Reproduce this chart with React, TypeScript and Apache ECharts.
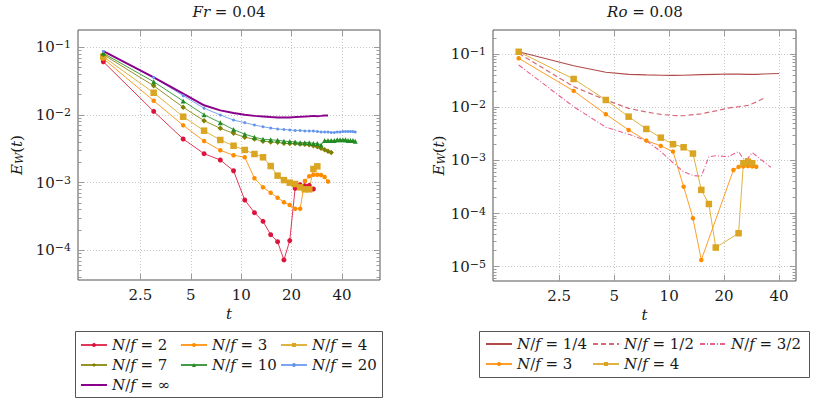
import React, { useEffect, useRef } from "react";
import * as echarts from "echarts";

const FONT = "DejaVu Serif";

// ---------- Left panel: Fr = 0.04 ----------
const tA2 = [1.5, 3, 4.5, 6, 7.5, 9, 10.5, 12, 13.5, 15, 16.5, 18, 19.5, 21, 22.5, 24, 25.5, 27];
const eA2 = [0.0612, 0.0113, 0.00442, 0.00268, 0.00216, 0.0015, 0.000554, 0.00036, 0.000268, 0.00017, 0.000134, 0.000072, 0.000139, 0.000825, 0.00093, 0.0009, 0.00091, 0.000805];

const tA3 = [1.5, 3, 4.5, 6, 7.5, 9, 10.5, 12, 13.5, 15, 16.5, 18, 19.5, 21, 22.5, 24, 25.5, 27, 28.5, 30, 31.5, 33];
const eA3 = [0.068, 0.01625, 0.00703, 0.00412, 0.00301, 0.00254, 0.00237, 0.00116, 0.000853, 0.00071, 0.000599, 0.000512, 0.000467, 0.000412, 0.000412, 0.00106, 0.00124, 0.00131, 0.00131, 0.0013, 0.00121, 0.00104];

const tA4 = [1.5, 3, 4.5, 6, 7.5, 9, 10.5, 12, 13.5, 15, 16.5, 18, 19.5, 21, 22.5, 24, 25.5, 27, 28.5];
const eA4 = [0.0726, 0.0213, 0.00943, 0.00586, 0.00427, 0.00351, 0.00304, 0.00265, 0.00237, 0.00176, 0.00127, 0.00109, 0.000998, 0.000955, 0.000853, 0.000797, 0.000797, 0.00159, 0.00174];

const tA7 = [1.5, 3, 4.5, 6, 7.5, 9, 10.5, 12, 13.5, 15, 16.5, 18, 19.5, 21, 22.5, 24, 25.5, 27, 28.5, 30, 31.5, 33, 34.5];
const eA7 = [0.078, 0.027, 0.013, 0.00823, 0.00635, 0.00536, 0.00468, 0.0044, 0.0041, 0.004, 0.00395, 0.00381, 0.0038, 0.00378, 0.00374, 0.0037, 0.00362, 0.0035, 0.00338, 0.00322, 0.00305, 0.00292, 0.00278];

const tA10 = [1.5, 3, 4.5, 6, 7.5, 9, 10.5, 12, 13.5, 15, 16.5, 18, 19.5, 21, 22.5, 24, 25.5, 27, 28.5, 30, 31.5, 33, 34.5, 36, 37.5, 39, 40.5, 42, 43.5, 45, 46.5, 48];
const eA10 = [0.0815, 0.031, 0.0161, 0.0101, 0.0077, 0.0061, 0.0052, 0.0047, 0.00437, 0.0043, 0.00423, 0.0041, 0.00405, 0.004, 0.0039, 0.0039, 0.0039, 0.0038, 0.0038, 0.0036, 0.0042, 0.0042, 0.0042, 0.0042, 0.0043, 0.0043, 0.0043, 0.0043, 0.0042, 0.0042, 0.0042, 0.0041];

const tA20 = [1.5, 3, 4.5, 6, 7.5, 9, 10.5, 12, 13.5, 15, 16.5, 18, 19.5, 21, 22.5, 24, 25.5, 27, 28.5, 30, 31.5, 33, 34.5, 36, 37.5, 39, 40.5, 42, 43.5, 45, 46.5, 48];
const eA20 = [0.087, 0.036, 0.0193, 0.0126, 0.01, 0.0084, 0.0077, 0.0071, 0.0067, 0.0064, 0.0062, 0.0061, 0.006, 0.0059, 0.0059, 0.0058, 0.0058, 0.0058, 0.0057, 0.0056, 0.0056, 0.0056, 0.0055, 0.0055, 0.0056, 0.0056, 0.0057, 0.0057, 0.0057, 0.0057, 0.0057, 0.0056];

const tAInf = [1.5, 3, 4.5, 6, 7.5, 9, 10.5, 12, 13.5, 15, 16.5, 18, 19.5, 21, 22.5, 24, 25.5, 27, 28.5, 30, 31.5, 33];
const eAInf = [0.088, 0.036, 0.0207, 0.0139, 0.0117, 0.0107, 0.0101, 0.0097, 0.0095, 0.0093, 0.0092, 0.0092, 0.0092, 0.0093, 0.0094, 0.0095, 0.0096, 0.0097, 0.0096, 0.0097, 0.0098, 0.0098];

// ---------- Right panel: Ro = 0.08 ----------
const tB14 = [1.5, 3, 4.5, 6, 7.5, 9, 10.5, 12, 15, 18, 21, 24, 27, 30, 33, 36, 40];
const eB14 = [0.11, 0.06, 0.0453, 0.0415, 0.0405, 0.0398, 0.0396, 0.0398, 0.041, 0.0415, 0.042, 0.0418, 0.0415, 0.0412, 0.042, 0.0425, 0.043];

const tB12 = [1.5, 3, 4.5, 6, 7.5, 9, 10.5, 12, 15, 18, 21, 24, 27, 30, 33];
const eB12 = [0.103, 0.0243, 0.01365, 0.0095, 0.0081, 0.0073, 0.007, 0.0069, 0.0075, 0.0085, 0.0096, 0.0102, 0.0108, 0.0125, 0.0147];

const tB32 = [1.5, 3, 4.5, 6, 7.5, 9, 10.5, 12, 13.5, 15, 16.5, 18, 21, 24, 25.5, 27, 28.5, 36];
const eB32 = [0.062, 0.0102, 0.0042, 0.0031, 0.00235, 0.00146, 0.0009, 0.00061, 0.00052, 0.0005, 0.00117, 0.00122, 0.00117, 0.00146, 0.00106, 0.00109, 0.0014, 0.00074];

const tB3 = [1.5, 3, 4.5, 6, 7.5, 9, 10.5, 12, 13.5, 15, 22.5, 24, 25.5, 27, 28.5, 30];
const eB3 = [0.083, 0.0202, 0.00736, 0.00373, 0.00235, 0.00187, 0.00146, 0.00032, 0.0000816, 0.0000134, 0.00066, 0.000752, 0.00077, 0.00078, 0.00077, 0.00076];

const tB4 = [1.5, 3, 4.5, 6, 7.5, 9, 10.5, 12, 13.5, 15, 16.5, 18, 24, 25.5, 27, 28.5];
const eB4 = [0.11, 0.0339, 0.01365, 0.00663, 0.00389, 0.00267, 0.00201, 0.00176, 0.00134, 0.000278, 0.000151, 0.0000229, 0.0000426, 0.000882, 0.000946, 0.000882];

// ---------- Axes ----------
const xTickLabels = [2.5, 5, 10, 20, 40];
const yDecadesLeft = [-1, -2, -3, -4];
const yDecadesRight = [-1, -2, -3, -4, -5];
const minorMultipliers = [2, 3, 4, 5, 6, 7, 8, 9];

const legendText: Record<string, string> = {
  A2: "{i|N}/{i|f} = 2",
  A3: "{i|N}/{i|f} = 3",
  A4: "{i|N}/{i|f} = 4",
  A7: "{i|N}/{i|f} = 7",
  A10: "{i|N}/{i|f} = 10",
  A20: "{i|N}/{i|f} = 20",
  AInf: "{i|N}/{i|f} = ∞",
  B14: "{i|N}/{i|f} = 1/4",
  B12: "{i|N}/{i|f} = 1/2",
  B32: "{i|N}/{i|f} = 3/2",
  B3: "{i|N}/{i|f} = 3",
  B4: "{i|N}/{i|f} = 4",
};
const noMarker = ["AInf", "B14", "B12", "B32"];

const LG = Math.log10;

function minorTicks(decades: number[]): number[] {
  const out: number[] = [];
  const lo = Math.min(...decades) - 1;
  const hi = Math.max(...decades);
  for (let d = lo; d <= hi; d++) {
    for (const m of minorMultipliers) out.push(LG(m) + d);
  }
  return out;
}

const TICK_COLOR = "#9a9a9a";
const TEXT_COLOR = "#1a1a1a";
const FS = 15;
const ital = { fontStyle: "italic", fontFamily: FONT, fontSize: FS };

function xAxes(gi: number, min: number, max: number) {
  const ticks = xTickLabels.map(LG);
  return [
    {
      type: "value", gridIndex: gi, min, max, position: "bottom",
      axisLine: { show: false },
      axisTick: { show: true, inside: true, length: 6, customValues: ticks, lineStyle: { color: TICK_COLOR } },
      axisLabel: {
        customValues: ticks, margin: 7, fontFamily: FONT, fontSize: FS, color: TEXT_COLOR,
        formatter: (v: number) => String(Number(Math.pow(10, v).toPrecision(3))),
      },
      splitLine: { show: true, lineStyle: { color: "#c6c6c6", type: [1, 2], width: 1 } },
      name: "{i|t}", nameLocation: "middle", nameGap: 24,
      nameTextStyle: { fontFamily: FONT, fontSize: FS, color: TEXT_COLOR, rich: { i: ital } },
    },
    {
      type: "value", gridIndex: gi, min, max, position: "top",
      axisLine: { show: false },
      axisTick: { show: true, inside: true, length: 6, customValues: ticks, lineStyle: { color: TICK_COLOR } },
      axisLabel: { show: false },
      splitLine: { show: false },
    },
  ];
}

function yAxes(gi: number, min: number, max: number, decades: number[], nameGap: number) {
  const minor = minorTicks(decades);
  const base = { type: "value", gridIndex: gi, min, max, axisLine: { show: false }, splitLine: { show: false } };
  return [
    {
      ...base, position: "left",
      axisTick: { show: true, inside: true, length: 6, customValues: decades, lineStyle: { color: TICK_COLOR } },
      axisLabel: {
        customValues: decades, margin: 7, fontFamily: FONT, fontSize: FS, lineHeight: 16, color: TEXT_COLOR,
        formatter: (v: number) => `10{s|−${Math.round(-v)}}`,
        rich: { s: { fontSize: 11, lineHeight: 7, verticalAlign: "top", fontFamily: FONT, color: TEXT_COLOR } },
      },
      splitLine: { show: true, lineStyle: { color: "#c6c6c6", type: [1, 2], width: 1 } },
      name: "{i|E}{s|W}({i|t})", nameLocation: "middle", nameGap,
      nameTextStyle: {
        fontFamily: FONT, fontSize: FS, lineHeight: 16, color: TEXT_COLOR,
        rich: {
          i: ital,
          s: { fontStyle: "italic", fontFamily: FONT, fontSize: 11, lineHeight: 7, verticalAlign: "bottom" },
        },
      },
    },
    { ...base, position: "left", axisTick: { show: true, inside: true, length: 3.5, customValues: minor, lineStyle: { color: TICK_COLOR } }, axisLabel: { show: false } },
    { ...base, position: "right", axisTick: { show: true, inside: true, length: 6, customValues: decades, lineStyle: { color: TICK_COLOR } }, axisLabel: { show: false } },
    { ...base, position: "right", axisTick: { show: true, inside: true, length: 3.5, customValues: minor, lineStyle: { color: TICK_COLOR } }, axisLabel: { show: false } },
  ];
}

function series(name: string, t: number[], e: number[], color: string, xi: number, yi: number, opts: any = {}) {
  const symbol = opts.symbol ?? "none";
  return {
    type: "line", name, xAxisIndex: xi, yAxisIndex: yi,
    data: t.map((x, i) => [LG(x), LG(e[i])]),
    symbol, symbolSize: opts.size ?? 5, showSymbol: symbol !== "none",
    itemStyle: { color },
    lineStyle: { color, width: opts.width ?? 1, opacity: opts.opacity ?? 0.85, type: opts.type ?? "solid" },
    z: opts.z ?? 2,
    silent: true,
  };
}

function legend(names: string[], left: number, top: number) {
  return {
    data: names.map((n) => (noMarker.includes(n) ? { name: n, itemStyle: { opacity: 0 } } : { name: n })),
    orient: "vertical", left, top, padding: 0, itemGap: 0,
    itemWidth: 26, itemHeight: 5, selectedMode: false,
    formatter: (n: string) => legendText[n],
    textStyle: {
      fontFamily: FONT, fontSize: FS, lineHeight: 20, color: TEXT_COLOR,
      rich: { i: { ...ital, lineHeight: 20 } },
    },
  };
}

export default function App() {
  const ref = useRef<HTMLDivElement>(null);
  useEffect(() => {
    if (!ref.current) return;
    const chart = echarts.init(ref.current, undefined, { renderer: "svg" });
    const option: any = {
      animation: false,
      backgroundColor: "#fff",
      textStyle: { fontFamily: FONT },
      grid: [
        { left: 78, top: 30, width: 302, height: 250, show: true, borderColor: "#555", borderWidth: 1, backgroundColor: "transparent" },
        { left: 493, top: 30, width: 303, height: 251, show: true, borderColor: "#555", borderWidth: 1, backgroundColor: "transparent" },
      ],
      xAxis: [...xAxes(0, LG(1.059), LG(67.5)), ...xAxes(1, LG(1.085), LG(49.5))],
      yAxis: [...yAxes(0, -4.439, -0.744, yDecadesLeft, 53), ...yAxes(1, -5.269, -0.549, yDecadesRight, 46)],
      series: [
        series("A2", tA2, eA2, "#DC143C", 0, 0, { symbol: "circle", size: 5 }),
        series("A3", tA3, eA3, "#FF8C00", 0, 0, { symbol: "circle", size: 4.5 }),
        series("A4", tA4, eA4, "#DAA520", 0, 0, { symbol: "rect", size: 6.5 }),
        series("A7", tA7, eA7, "#808000", 0, 0, { symbol: "diamond", size: 5.5 }),
        series("A10", tA10, eA10, "#228B22", 0, 0, { symbol: "triangle", size: 5 }),
        series("A20", tA20, eA20, "#6495ED", 0, 0, { symbol: "circle", size: 3 }),
        series("AInf", tAInf, eAInf, "#8B008B", 0, 0, { width: 2, opacity: 1 }),
        series("B14", tB14, eB14, "#A52A2A", 2, 4, { width: 1.2 }),
        series("B12", tB12, eB12, "#CD4F62", 2, 4, { width: 1.2, type: [5, 3] }),
        series("B32", tB32, eB32, "#E8457A", 2, 4, { width: 1.1, type: [5, 2, 1, 2] }),
        series("B3", tB3, eB3, "#FF8C00", 2, 4, { symbol: "circle", size: 4.5 }),
        series("B4", tB4, eB4, "#DAA520", 2, 4, { symbol: "rect", size: 6.5 }),
      ],
      legend: [
        legend(["A2", "A7", "AInf"], 80, 335),
        legend(["A3", "A10"], 180, 335),
        legend(["A4", "A20"], 280, 335),
        legend(["B14", "B3"], 485, 334),
        legend(["B12", "B4"], 592, 334),
        legend(["B32"], 699, 334),
      ],
      graphic: [
        { type: "rect", shape: { x: 75.5, y: 331.5, width: 307, height: 66 }, style: { fill: "none", stroke: "#555", lineWidth: 1 } },
        { type: "rect", shape: { x: 479.5, y: 331.5, width: 330, height: 46 }, style: { fill: "none", stroke: "#555", lineWidth: 1 } },
        {
          type: "text", x: 229, y: 12,
          style: {
            text: "{i|Fr} = 0.04", fontFamily: FONT, fontSize: FS, fill: TEXT_COLOR, align: "center", verticalAlign: "middle",
            rich: { i: ital },
          },
        },
        {
          type: "text", x: 645, y: 12,
          style: {
            text: "{i|Ro} = 0.08", fontFamily: FONT, fontSize: FS, fill: TEXT_COLOR, align: "center", verticalAlign: "middle",
            rich: { i: ital },
          },
        },
      ],
    };
    chart.setOption(option);
    return () => chart.dispose();
  }, []);
  return (
    <div
      ref={ref}
      style={{ position: "fixed", left: 0, top: 0, width: "831px", height: "402px", background: "#fff", fontFamily: FONT }}
    />
  );
}
